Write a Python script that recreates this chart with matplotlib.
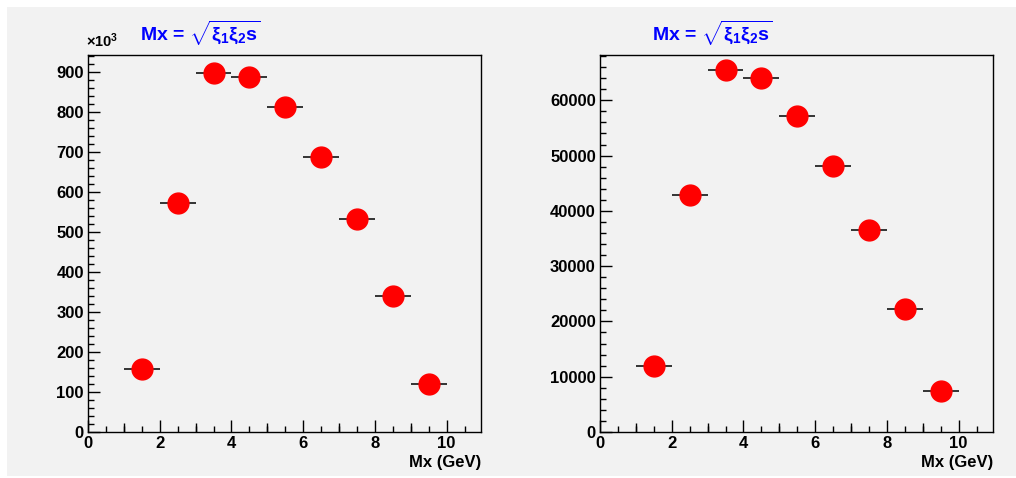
import matplotlib
matplotlib.use("Agg")
import matplotlib.pyplot as plt
from matplotlib.patches import Rectangle
from matplotlib.ticker import MultipleLocator, NullFormatter

plt.rcParams['font.family'] = ['Liberation Sans', 'DejaVu Sans']
plt.rcParams['font.weight'] = 'bold'
plt.rcParams['mathtext.fontset'] = 'custom'
plt.rcParams['mathtext.rm'] = 'Liberation Sans'
plt.rcParams['mathtext.it'] = 'Liberation Sans'
plt.rcParams['mathtext.bf'] = 'Liberation Sans:bold'

# bin centres and half widths (GeV)
mx = [1.5, 2.5, 3.5, 4.5, 5.5, 6.5, 7.5, 8.5, 9.5]
half_bin = [0.5] * 9

# left pad, in units of 10^3
counts_left = [158, 572, 896, 888, 811, 688, 532, 340, 119]
# right pad
counts_right = [11900, 42800, 65500, 64100, 57200, 48200, 36600, 22300, 7400]

bg = '#f2f2f2'
title = r'Mx = $\sqrt{\mathrm{\xi}_1\mathrm{\xi}_2\mathbf{s}}$'

fig = plt.figure(figsize=(10.16, 4.78), dpi=100)
fig.patch.set_facecolor('white')
fig.patches.append(Rectangle((7 / 1016, 0.004), 1.0, 1 - 7 / 478 - 0.004,
                             transform=fig.transFigure, facecolor=bg,
                             edgecolor='none', zorder=-10))


def make_pad(left, vals, ymax, major, minor):
    ax = fig.add_axes([left / 1016, 1 - 432 / 478, 393 / 1016, 377 / 478])
    ax.set_facecolor(bg)
    ax.errorbar(mx, vals, xerr=half_bin, fmt='o', color='red', ms=15,
                ecolor='black', elinewidth=1.1, capsize=0, zorder=3)
    ax.set_xlim(0, 10.96)
    ax.set_ylim(0, ymax)
    ax.xaxis.set_major_locator(MultipleLocator(2))
    ax.xaxis.set_minor_locator(MultipleLocator(0.5))
    ax.yaxis.set_major_locator(MultipleLocator(major))
    ax.yaxis.set_minor_locator(MultipleLocator(minor))
    ax.tick_params(which='both', direction='in', top=False, right=False,
                   labelsize=12, width=1.0)
    ax.tick_params(which='major', length=8.6, pad=3)
    ax.tick_params(which='minor', length=4.3)
    for s in ax.spines.values():
        s.set_linewidth(1.0)
    # medium ticks at odd GeV
    sec = ax.secondary_xaxis('bottom')
    sec.set_xticks([1, 3, 5, 7, 9, 11])
    sec.xaxis.set_major_formatter(NullFormatter())
    sec.tick_params(direction='in', length=6.5, width=1.0)
    sec.spines['bottom'].set_visible(False)
    ax.set_xlabel('Mx (GeV)', loc='right', fontsize=12, fontweight='bold',
                  labelpad=3)
    fig.text((left + 52) / 1016, 1 - 33 / 478, title, color='blue',
             fontsize=14, ha='left', va='center')
    return ax


make_pad(88, counts_left, 942, 100, 20)
fig.text(86 / 1016, 1 - 50 / 478, r'$\times10^{3}$', fontsize=10.5,
         fontweight='normal', ha='left', va='bottom')
make_pad(600, counts_right, 68200, 10000, 2000)

fig.savefig('out.png', dpi=100)
